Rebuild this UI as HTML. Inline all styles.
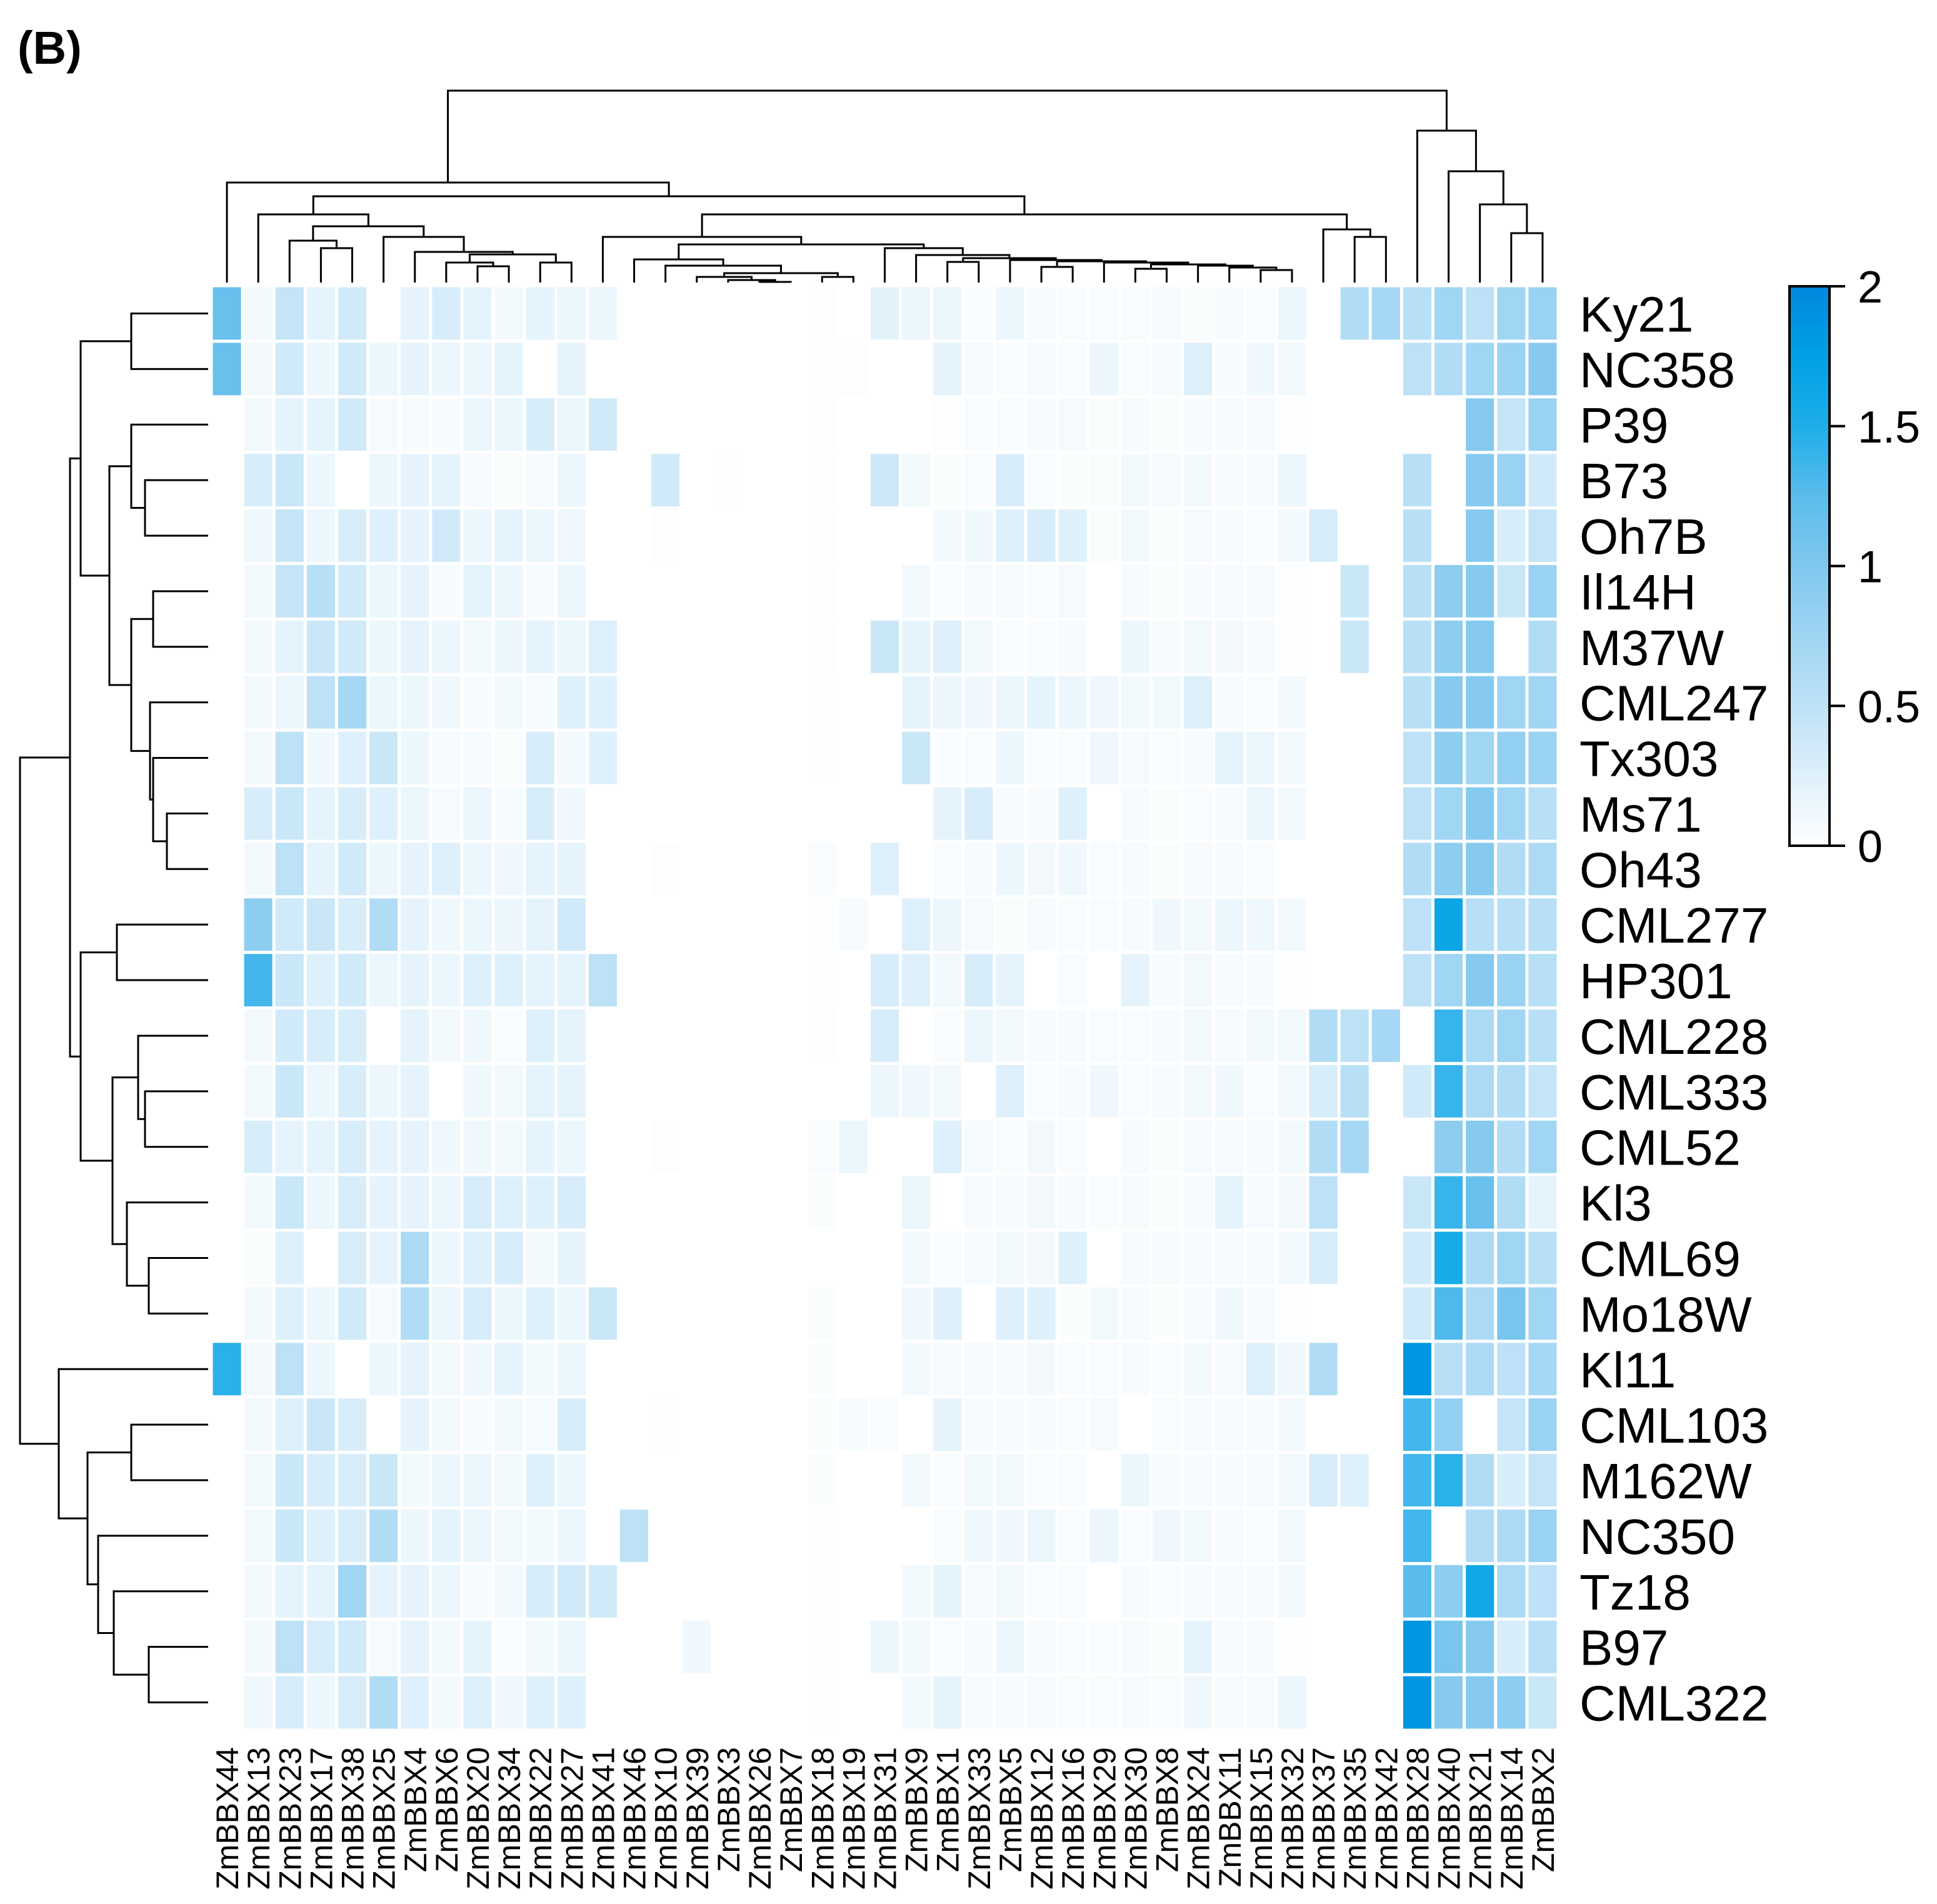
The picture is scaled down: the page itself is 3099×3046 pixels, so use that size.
<!DOCTYPE html>
<html><head><meta charset="utf-8"><style>
html,body{margin:0;padding:0;background:#fff;}
svg{display:block;}
text{font-family:"Liberation Sans",Arial,sans-serif;fill:#000;}
</style></head>
<body>
<svg id="chart" width="3099" height="3046" viewBox="0 0 3099 3046" xmlns="http://www.w3.org/2000/svg">
<defs>
<linearGradient id="cbgrad" x1="0" y1="1" x2="0" y2="0">
<stop offset="0" stop-color="#ffffff"/><stop offset="0.125" stop-color="#def0fb"/><stop offset="0.25" stop-color="#bde1f6"/><stop offset="0.375" stop-color="#a0d5f3"/><stop offset="0.5" stop-color="#7fc7ee"/><stop offset="0.625" stop-color="#5bbcec"/><stop offset="0.75" stop-color="#1eaeea"/><stop offset="0.875" stop-color="#00a0e4"/><stop offset="1" stop-color="#0088dc"/>
</linearGradient>
</defs>
<text x="28" y="102" font-size="74" font-weight="bold">(B)</text>
<g id="cells"></g>
<g id="topdendro"></g>
<g id="leftdendro"></g>
<g id="rowlabels"></g>
<g id="collabels"></g>
<g id="colorbar">
<rect x="2863" y="458" width="64" height="895" fill="url(#cbgrad)" stroke="#000" stroke-width="4"/>
</g>
</svg>
<script>
const colNames = ["ZmBBX44","ZmBBX13","ZmBBX23","ZmBBX17","ZmBBX38","ZmBBX25","ZmBBX4","ZmBBX6","ZmBBX20","ZmBBX34","ZmBBX22","ZmBBX27","ZmBBX41","ZmBBX46","ZmBBX10","ZmBBX39","ZmBBX3","ZmBBX26","ZmBBX7","ZmBBX18","ZmBBX19","ZmBBX31","ZmBBX9","ZmBBX1","ZmBBX33","ZmBBX5","ZmBBX12","ZmBBX16","ZmBBX29","ZmBBX30","ZmBBX8","ZmBBX24","ZmBBX11","ZmBBX15","ZmBBX32","ZmBBX37","ZmBBX35","ZmBBX42","ZmBBX28","ZmBBX40","ZmBBX21","ZmBBX14","ZmBBX2"];
const rowNames = ["Ky21","NC358","P39","B73","Oh7B","Il14H","M37W","CML247","Tx303","Ms71","Oh43","CML277","HP301","CML228","CML333","CML52","Kl3","CML69","Mo18W","Kl11","CML103","M162W","NC350","Tz18","B97","CML322"];
const cbTicks = [0,0.5,1,1.5,2];
const cbTickLabels = ["0","0.5","1","1.5","2"];
const valsLeft = [
[1.15,0.1,0.45,0.2,0.35,0,0.2,0.3,0.2,0.1,0.2,0.15,0.15,0,0,0,0,0,0,0.03,0],
[1.15,0.1,0.35,0.15,0.35,0.15,0.2,0.15,0.15,0.2,0,0.2,0,0,0,0,0,0,0,0.03,0.03],
[0,0.1,0.2,0.2,0.35,0.08,0.07,0.07,0.15,0.15,0.3,0.15,0.35,0,0,0,0,0,0,0.03,0],
[0,0.3,0.4,0.15,0,0.15,0.2,0.2,0.08,0.04,0.08,0.15,0,0,0.35,0,0.03,0,0,0.03,0],
[0,0.12,0.45,0.15,0.3,0.25,0.2,0.35,0.15,0.2,0.15,0.12,0,0,0.03,0,0,0,0,0.03,0],
[0,0.1,0.45,0.55,0.35,0.15,0.2,0.07,0.2,0.15,0.07,0.15,0,0,0,0,0,0,0,0.03,0],
[0,0.1,0.2,0.4,0.35,0.15,0.2,0.15,0.1,0.15,0.2,0.15,0.25,0,0,0,0,0,0,0.03,0],
[0,0.1,0.15,0.5,0.7,0.15,0.15,0.12,0.07,0.1,0.08,0.25,0.25,0,0,0,0,0,0,0.02,0],
[0,0.1,0.5,0.12,0.25,0.4,0.15,0.08,0.08,0.04,0.3,0.1,0.25,0,0,0,0,0,0,0.02,0],
[0,0.3,0.4,0.2,0.3,0.25,0.15,0.08,0.15,0.07,0.3,0.12,0,0,0,0,0,0,0,0,0],
[0,0.1,0.5,0.2,0.35,0.15,0.2,0.25,0.15,0.12,0.2,0.2,0,0,0.03,0,0,0,0,0.05,0],
[0,0.9,0.35,0.4,0.3,0.6,0.2,0.12,0.15,0.15,0.2,0.35,0,0,0,0,0,0,0,0.02,0.07],
[0,1.35,0.4,0.25,0.35,0.15,0.2,0.15,0.25,0.25,0.2,0.2,0.5,0,0,0,0,0,0,0.02,0],
[0,0.1,0.35,0.3,0.3,0,0.2,0.1,0.12,0.05,0.25,0.2,0,0,0,0,0,0,0,0.03,0],
[0,0.1,0.4,0.15,0.3,0.15,0.2,0,0.12,0.1,0.2,0.2,0,0,0,0,0,0,0,0,0],
[0,0.3,0.2,0.2,0.3,0.2,0.2,0.12,0.12,0.1,0.2,0.15,0,0,0.03,0,0,0,0,0.05,0.15],
[0,0.1,0.4,0.15,0.3,0.2,0.2,0.15,0.3,0.25,0.25,0.3,0,0,0,0,0,0,0,0.04,0],
[0,0.04,0.25,0,0.3,0.2,0.65,0.15,0.25,0.3,0.1,0.2,0,0,0,0,0,0,0,0,0],
[0,0.1,0.25,0.15,0.35,0.08,0.6,0.15,0.3,0.15,0.25,0.15,0.4,0,0,0,0,0,0,0.04,0],
[1.45,0.1,0.5,0.15,0,0.15,0.2,0.1,0.12,0.2,0.1,0.15,0,0,0,0,0,0,0,0.04,0],
[0,0.1,0.25,0.4,0.3,0,0.2,0.1,0.07,0.1,0.08,0.3,0,0,0.02,0,0,0,0,0.04,0.07],
[0,0.1,0.4,0.3,0.3,0.4,0.1,0.15,0.15,0.1,0.25,0.15,0,0,0,0,0,0,0,0.04,0],
[0,0.1,0.4,0.25,0.3,0.6,0.15,0.2,0.15,0.1,0.1,0.15,0,0.5,0,0,0,0,0,0.02,0],
[0,0.1,0.2,0.2,0.75,0.2,0.2,0.15,0.07,0.1,0.3,0.35,0.35,0,0,0,0,0,0,0.02,0],
[0,0.1,0.5,0.3,0.35,0.08,0.2,0.1,0.2,0.05,0.1,0.15,0,0,0,0.12,0,0,0,0.02,0],
[0,0.12,0.3,0.15,0.3,0.6,0.25,0.1,0.25,0.12,0.25,0.25,0,0,0,0,0,0,0,0.02,0]
];
const valsRight = [
[0.22,0.15,0.15,0.05,0.15,0.07,0.05,0.05,0.05,0.08,0.04,0.07,0.05,0.15,0,0.6,0.7,0.55,0.75,0.5,0.75,0.8],
[0,0,0.2,0.08,0.05,0.08,0.05,0.15,0.05,0.08,0.25,0.07,0.12,0.1,0,0,0,0.5,0.6,0.75,0.8,0.95],
[0,0,0.03,0.05,0.05,0.06,0.08,0.04,0.06,0.04,0.06,0.07,0.08,0.03,0,0,0,0,0,0.95,0.45,0.8],
[0.38,0.1,0.04,0.05,0.3,0.05,0.04,0.04,0.1,0.08,0.1,0.07,0.06,0.15,0,0,0,0.55,0,0.95,0.8,0.35],
[0,0,0.1,0.12,0.25,0.3,0.25,0.04,0.1,0.04,0.08,0.07,0.05,0.1,0.3,0,0,0.55,0,0.95,0.3,0.45],
[0,0.1,0.05,0.06,0.06,0.05,0.08,0,0.06,0.04,0.06,0.08,0.06,0.03,0,0.4,0,0.55,0.9,0.95,0.4,0.8],
[0.4,0.2,0.25,0.1,0.05,0.05,0.06,0,0.15,0.06,0.1,0.1,0.06,0.03,0,0.4,0,0.55,0.9,0.95,0,0.6],
[0,0.2,0.15,0.12,0.15,0.2,0.15,0.12,0.1,0.1,0.25,0.07,0.05,0.1,0,0,0,0.55,0.95,0.95,0.75,0.75],
[0,0.4,0.05,0.05,0.15,0.05,0.05,0.12,0.08,0.05,0.07,0.2,0.15,0.1,0,0,0,0.5,0.9,0.75,0.85,0.8],
[0,0,0.2,0.3,0.06,0.06,0.25,0,0.06,0.04,0.05,0.06,0.15,0.1,0,0,0,0.5,0.75,0.95,0.75,0.55],
[0.25,0,0.05,0.06,0.15,0.1,0.12,0.05,0.06,0.04,0.06,0.06,0.05,0,0,0,0,0.6,0.9,0.95,0.6,0.65],
[0,0.25,0.15,0.08,0.04,0.06,0.05,0.05,0.06,0.12,0.1,0.15,0.12,0.1,0,0,0,0.5,1.65,0.55,0.55,0.55],
[0.3,0.25,0.1,0.3,0.2,0,0.05,0,0.2,0.06,0.1,0.07,0.06,0.02,0,0,0,0.5,0.75,0.95,0.8,0.55],
[0.3,0,0.05,0.15,0.1,0.06,0.06,0.05,0.05,0.07,0.1,0.08,0.1,0.1,0.6,0.5,0.7,0,1.4,0.65,0.75,0.55],
[0.15,0.12,0.1,0,0.25,0.05,0.06,0.12,0.05,0.06,0.1,0.12,0.05,0.1,0.3,0.55,0,0.35,1.4,0.65,0.6,0.45],
[0,0,0.25,0.08,0.05,0.1,0.05,0,0.06,0.04,0.08,0.08,0.06,0.1,0.6,0.7,0,0,0.9,0.95,0.6,0.75],
[0,0.15,0,0.06,0.06,0.1,0.06,0.05,0.06,0.04,0.08,0.2,0.08,0.1,0.5,0,0,0.4,1.4,1.15,0.6,0.2],
[0,0.1,0.05,0.08,0.1,0.1,0.25,0,0.06,0.06,0.08,0.08,0.06,0.1,0.3,0,0,0.35,1.55,0.65,0.75,0.55],
[0,0.12,0.25,0,0.25,0.25,0.04,0.1,0.06,0.04,0.08,0.12,0.06,0.03,0,0,0,0.35,1.3,0.65,1.05,0.75],
[0,0.1,0.08,0.08,0.06,0.1,0.05,0.05,0.06,0.05,0.1,0.08,0.25,0.12,0.6,0,0,1.85,0.55,0.65,0.5,0.7],
[0.05,0,0.2,0.08,0.06,0.06,0.05,0.08,0,0.05,0.08,0.08,0.07,0.1,0,0,0,1.35,0.85,0,0.45,0.8],
[0,0.1,0.05,0.1,0.1,0.05,0.05,0,0.15,0.06,0.06,0.06,0.08,0.1,0.3,0.25,0,1.35,1.45,0.6,0.3,0.45],
[0,0,0.05,0.12,0.12,0.15,0.05,0.15,0.05,0.12,0.1,0.08,0.05,0.1,0,0,0,1.35,0,0.6,0.65,0.8],
[0,0.1,0.2,0.08,0.1,0.05,0.05,0,0.06,0.05,0.08,0.08,0.06,0.1,0,0,0,1.25,0.9,1.6,0.65,0.5],
[0.15,0.1,0.05,0.06,0.15,0.06,0.05,0.05,0.06,0.04,0.2,0.08,0.06,0.02,0,0,0,1.85,1.05,0.95,0.3,0.55],
[0,0.1,0.2,0.06,0.06,0.08,0.05,0.05,0.06,0.05,0.12,0.08,0.06,0.15,0,0,0,1.85,0.95,0.95,0.9,0.4]
];
function N(h,a,b){return {h:h,a:a,b:b};}
// column dendrogram (merge heights in px)
const La3 = N(379,5,N(403,6,N(407,N(420,7,N(426,8,9)),N(420,10,11))));
const La = N(343,1,N(362,N(385,2,N(397,3,4)),La3));
const Sclust = N(416,25,N(418,N(427,26,27),N(420,28,N(423,N(430,29,30),N(425,31,N(428,32,N(432,33,34)))))));
const M3 = N(397,21,N(408,22,N(413,N(419,23,24),Sclust)));
const M2 = N(415,13,N(425,14,N(437,N(443,15,N(448,16,N(451,17,18))),N(443,19,20))));
const Mn = N(379,12,N(391,M2,M3));
const Lb = N(343,Mn,N(367,35,N(379,36,37)));
const Lclust = N(292,0,N(314,La,Lb));
const Rclust = N(209,38,N(274,39,N(327,40,N(373,41,42))));
const colTree = N(145,Lclust,Rclust);
// row dendrogram
const A11 = N(175,N(210,2,N(232,3,4)),N(210,N(245,5,6),N(240,7,N(245,8,N(267,9,10)))));
const A1 = N(129,N(210,0,1),A11);
const A2 = N(129,N(187,11,12),N(180,N(221,13,N(232,14,15)),N(203,16,N(238,17,18))));
const Bn = N(94,19,N(140,N(210,20,21),N(157,22,N(182,23,N(238,24,25)))));
const rowTree = N(32,N(112,A1,A2),Bn);

const SVGNS="http://www.w3.org/2000/svg";
const X0=338, X1=2493, Y0=457, Y1=2768;
const nC=colNames.length, nR=rowNames.length;
const cw=(X1-X0)/nC, rh=(Y1-Y0)/nR;
const xScale=i=>X0+cw*i, yScale=j=>Y0+rh*j;
const cbY=v=>1353-(v/2)*(1353-458);
const stops=[[0,[255,255,255]],[0.25,[222,240,251]],[0.5,[189,225,246]],[0.75,[160,213,243]],[1,[127,199,238]],[1.25,[91,188,236]],[1.5,[30,174,234]],[1.75,[0,160,228]],[2,[0,136,220]]];
function color(v){
  v=Math.max(0,Math.min(2,v));
  for(let k=1;k<stops.length;k++){
    if(v<=stops[k][0]){
      const a=stops[k-1][0], ca=stops[k-1][1], b=stops[k][0], cc=stops[k][1];
      const t=(v-a)/(b-a);
      return "rgb("+ca.map((c,i)=>Math.round(c+(cc[i]-c)*t)).join(",")+")";
    }
  }
  return "rgb(0,136,220)";
}
function mk(tag,attrs,parent){const e=document.createElementNS(SVGNS,tag);for(const k in attrs)e.setAttribute(k,attrs[k]);parent.appendChild(e);return e;}

const cells=document.getElementById("cells");
for(let r=0;r<nR;r++){
  const row=valsLeft[r].concat(valsRight[r]);
  for(let c=0;c<nC;c++){
    const v=row[c]||0;
    const e=mk("rect",{x:(xScale(c)+2.5).toFixed(1),y:(yScale(r)+2.5).toFixed(1),width:(cw-5).toFixed(1),height:(rh-5).toFixed(1),fill:color(v)},cells);
    
    
  }
}
const td=document.getElementById("topdendro");
const LEAFY=452;
function drawTop(n){
  if(typeof n==="number") return [xScale(n)+cw/2, LEAFY];
  const A=drawTop(n.a), B=drawTop(n.b);
  const p=mk("path",{d:`M${A[0]},${A[1]} V${n.h} H${B[0]} V${B[1]}`,fill:"none",stroke:"#000","stroke-width":3},td);
  
  
  return [(A[0]+B[0])/2, n.h];
}
drawTop(colTree);
const ld=document.getElementById("leftdendro");
const LEAFX=333;
function drawLeft(n){
  if(typeof n==="number") return [LEAFX, yScale(n)+rh/2];
  const A=drawLeft(n.a), B=drawLeft(n.b);
  const p=mk("path",{d:`M${A[0]},${A[1]} H${n.h} V${B[1]} H${B[0]}`,fill:"none",stroke:"#000","stroke-width":3},ld);
  
  
  return [n.h,(A[1]+B[1])/2];
}
drawLeft(rowTree);
const rl=document.getElementById("rowlabels");
rowNames.forEach((nm,j)=>{
  const t=mk("text",{x:2527,y:(yScale(j)+rh/2+29).toFixed(1),"font-size":80},rl);
  t.textContent=nm;
  
  
});
const cl=document.getElementById("collabels");
colNames.forEach((nm,i)=>{
  const cx=xScale(i)+cw/2+18, cy=2795;
  const t=mk("text",{x:cx.toFixed(1),y:cy,"font-size":50,"text-anchor":"end",transform:`rotate(-90 ${cx.toFixed(1)} ${cy})`},cl);
  t.textContent=nm;
  
  
});
const cbar=document.getElementById("colorbar");
cbTicks.forEach((v,k)=>{
  const y=cbY(v);
  const l=mk("line",{x1:2927,x2:2952,y1:y,y2:y,stroke:"#000","stroke-width":4},cbar);
  
  
  const t=mk("text",{x:2972,y:(y+26).toFixed(1),"font-size":72},cbar);
  t.textContent=cbTickLabels[k];
  
  
});
</script>
</body></html>
